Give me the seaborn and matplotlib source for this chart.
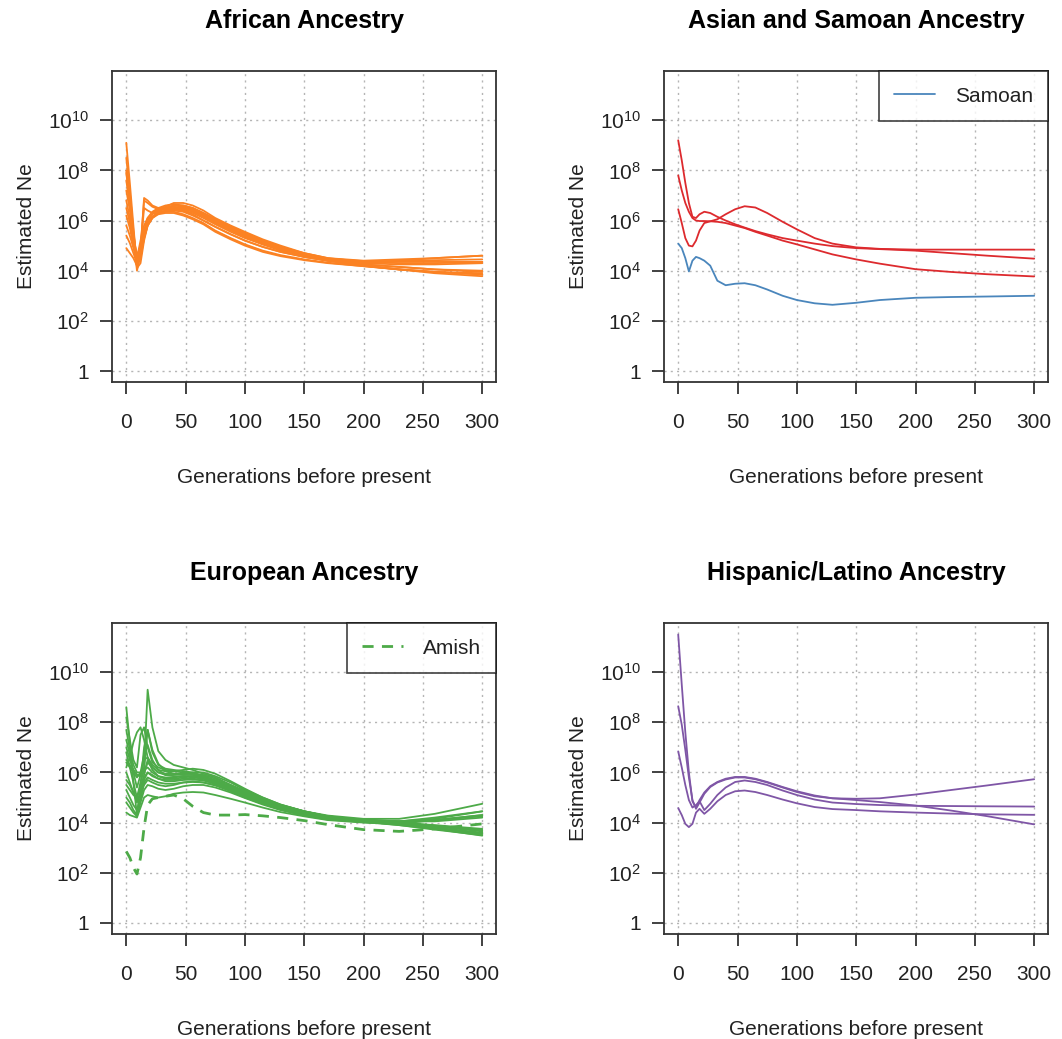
import matplotlib
matplotlib.use("Agg")
import matplotlib.pyplot as plt
from matplotlib.ticker import NullLocator
import numpy as np
import pandas as pd
import seaborn as sns

GENS = [0, 3, 6, 9, 12, 15, 18, 22, 27, 33, 40, 48, 56, 65, 75, 88,
        100, 115, 130, 150, 170, 200, 230, 260, 300]

# log10(Estimated Ne), one row per curve
AFRICAN = [
    [9.1, 7.5, 5.8, 4.1, 4.3, 5.2, 5.8, 6.15, 6.35, 6.5, 6.6, 6.6, 6.5, 6.3, 6.05, 5.75, 5.5, 5.2, 4.95, 4.7, 4.5, 4.35, 4.3, 4.3, 4.35],
    [8.5, 7.1, 5.6, 4.3, 4.8, 6.9, 6.8, 6.6, 6.5, 6.5, 6.55, 6.5, 6.4, 6.2, 5.95, 5.65, 5.4, 5.1, 4.85, 4.6, 4.4, 4.25, 4.15, 4.05, 3.95],
    [8.0, 6.8, 5.4, 4.0, 4.6, 5.5, 6.0, 6.3, 6.45, 6.55, 6.7, 6.7, 6.6, 6.4, 6.1, 5.8, 5.55, 5.25, 5.0, 4.7, 4.5, 4.4, 4.45, 4.5, 4.6],
    [7.6, 6.6, 5.5, 4.4, 4.9, 6.8, 6.7, 6.55, 6.45, 6.45, 6.5, 6.45, 6.35, 6.15, 5.9, 5.6, 5.35, 5.05, 4.8, 4.55, 4.4, 4.2, 4.05, 3.95, 3.85],
    [7.2, 6.4, 5.4, 4.6, 5.0, 5.6, 6.0, 6.25, 6.4, 6.5, 6.6, 6.55, 6.45, 6.25, 6.0, 5.7, 5.45, 5.15, 4.9, 4.65, 4.45, 4.35, 4.35, 4.35, 4.35],
    [6.8, 6.1, 5.3, 4.5, 5.2, 5.8, 6.1, 6.3, 6.4, 6.45, 6.5, 6.5, 6.4, 6.2, 5.95, 5.65, 5.4, 5.1, 4.85, 4.6, 4.42, 4.3, 4.25, 4.25, 4.3],
    [6.5, 5.9, 5.1, 4.2, 4.5, 5.3, 5.8, 6.1, 6.3, 6.4, 6.45, 6.4, 6.25, 6.0, 5.75, 5.45, 5.2, 4.95, 4.75, 4.55, 4.4, 4.2, 4.05, 3.95, 3.9],
    [6.2, 5.7, 5.0, 4.3, 4.9, 6.5, 6.4, 6.3, 6.3, 6.35, 6.4, 6.35, 6.2, 6.0, 5.75, 5.45, 5.2, 4.95, 4.75, 4.55, 4.4, 4.25, 4.15, 4.05, 4.0],
    [5.8, 5.4, 4.9, 4.5, 4.9, 5.5, 5.9, 6.15, 6.3, 6.4, 6.45, 6.4, 6.3, 6.1, 5.85, 5.55, 5.3, 5.05, 4.85, 4.62, 4.45, 4.35, 4.4, 4.5, 4.6],
    [5.4, 5.1, 4.7, 4.3, 4.7, 5.4, 5.85, 6.15, 6.3, 6.35, 6.35, 6.25, 6.1, 5.9, 5.6, 5.3, 5.05, 4.8, 4.62, 4.45, 4.32, 4.18, 4.05, 3.95, 3.85],
    [4.9, 4.7, 4.5, 4.2, 4.6, 5.3, 5.8, 6.1, 6.25, 6.3, 6.3, 6.2, 6.05, 5.85, 5.55, 5.25, 5.0, 4.75, 4.58, 4.42, 4.3, 4.18, 4.05, 3.9, 3.78],
    [7.9, 6.7, 5.3, 4.2, 4.7, 5.6, 6.1, 6.35, 6.5, 6.6, 6.65, 6.6, 6.5, 6.3, 6.05, 5.75, 5.5, 5.2, 4.95, 4.68, 4.48, 4.38, 4.38, 4.42, 4.45],
]

ASIAN = [
    [9.2, 8.4, 7.5, 6.7, 6.15, 6.1, 6.25, 6.35, 6.3, 6.15, 6.0, 5.85, 5.72, 5.58, 5.45, 5.3, 5.2, 5.08, 4.98, 4.9, 4.86, 4.8, 4.7, 4.6, 4.48],
    [7.8, 7.2, 6.7, 6.35, 6.1, 6.0, 5.98, 5.98, 5.97, 5.95, 5.9, 5.8, 5.7, 5.55, 5.4, 5.2, 5.05, 4.85, 4.65, 4.45, 4.28, 4.06, 3.95, 3.86, 3.77],
    [6.45, 5.9, 5.3, 5.0, 4.97, 5.2, 5.6, 5.9, 5.97, 6.05, 6.25, 6.45, 6.57, 6.52, 6.3, 5.95, 5.65, 5.3, 5.08, 4.93, 4.87, 4.84, 4.84, 4.84, 4.84],
]

SAMOAN = [5.08, 4.9, 4.5, 3.97, 4.4, 4.55, 4.5, 4.4, 4.2, 3.6, 3.42, 3.48, 3.5, 3.42, 3.25, 3.0,
          2.83, 2.7, 2.64, 2.72, 2.83, 2.92, 2.95, 2.97, 3.0]

EUROPEAN = [
    [6.5, 6.3, 6.1, 5.9, 5.9, 6.2, 9.3, 7.8, 6.85, 6.5, 6.3, 6.2, 6.1, 5.95, 5.8, 5.5, 5.25, 4.95, 4.7, 4.45, 4.25, 4.1, 4.05, 4.1, 4.3],
    [8.6, 7.2, 5.6, 4.3, 5.5, 7.0, 7.7, 6.8, 6.3, 6.15, 6.1, 6.05, 6.0, 5.85, 5.65, 5.4, 5.15, 4.85, 4.6, 4.35, 4.2, 4.08, 3.95, 3.8, 3.6],
    [8.2, 7.3, 6.5, 6.2, 7.5, 7.8, 7.0, 6.4, 6.2, 6.1, 6.05, 6.0, 5.95, 5.85, 5.65, 5.4, 5.15, 4.85, 4.6, 4.35, 4.2, 4.1, 4.0, 3.85, 3.7],
    [7.7, 6.9, 6.3, 6.0, 6.0, 6.1, 7.7, 6.9, 6.35, 6.05, 5.95, 5.9, 5.9, 5.85, 5.7, 5.45, 5.2, 4.9, 4.65, 4.4, 4.25, 4.12, 4.05, 4.05, 4.2],
    [7.0, 6.5, 6.1, 5.9, 5.85, 6.0, 6.4, 6.2, 6.0, 5.95, 5.95, 5.95, 5.95, 5.9, 5.75, 5.5, 5.25, 4.95, 4.7, 4.45, 4.25, 4.1, 4.05, 4.2, 4.45],
    [6.8, 6.2, 5.6, 5.0, 5.6, 6.1, 6.2, 6.0, 5.85, 5.8, 5.8, 5.85, 5.85, 5.8, 5.65, 5.4, 5.15, 4.85, 4.6, 4.35, 4.2, 4.05, 3.9, 3.75, 3.55],
    [6.4, 6.2, 6.0, 5.8, 6.0, 6.7, 7.1, 6.5, 6.1, 5.9, 5.85, 5.85, 5.8, 5.75, 5.6, 5.35, 5.1, 4.82, 4.58, 4.35, 4.2, 4.08, 4.0, 3.9, 3.75],
    [6.0, 5.6, 5.2, 4.8, 5.2, 5.8, 6.0, 5.85, 5.75, 5.7, 5.7, 5.75, 5.75, 5.7, 5.55, 5.3, 5.08, 4.8, 4.55, 4.32, 4.15, 4.05, 4.0, 4.1, 4.25],
    [5.7, 5.5, 5.2, 4.9, 5.1, 5.5, 5.7, 5.6, 5.5, 5.45, 5.5, 5.6, 5.65, 5.6, 5.5, 5.3, 5.05, 4.78, 4.55, 4.32, 4.15, 4.02, 3.9, 3.72, 3.5],
    [5.3, 5.0, 4.7, 4.5, 5.0, 5.6, 5.8, 5.7, 5.6, 5.55, 5.55, 5.6, 5.62, 5.6, 5.48, 5.25, 5.0, 4.75, 4.52, 4.3, 4.15, 4.05, 4.0, 3.85, 3.65],
    [5.0, 4.8, 4.5, 4.3, 4.8, 5.3, 5.5, 5.45, 5.35, 5.3, 5.35, 5.45, 5.5, 5.5, 5.4, 5.2, 4.98, 4.72, 4.5, 4.28, 4.12, 4.02, 3.95, 3.75, 3.48],
    [4.4, 4.3, 4.25, 4.2, 4.6, 5.0, 5.1, 5.05, 5.0, 5.05, 5.15, 5.2, 5.22, 5.2, 5.1, 4.95, 4.8, 4.6, 4.42, 4.25, 4.1, 4.0, 3.95, 4.1, 4.3],
    [7.3, 6.7, 6.0, 5.4, 5.9, 6.5, 6.6, 6.2, 6.0, 5.9, 5.9, 5.95, 6.0, 6.0, 5.85, 5.6, 5.3, 5.0, 4.72, 4.45, 4.28, 4.15, 4.15, 4.35, 4.75],
    [6.2, 6.6, 7.2, 7.6, 7.8, 7.3, 6.6, 6.3, 6.1, 6.05, 6.05, 6.1, 6.15, 6.1, 5.95, 5.65, 5.35, 5.0, 4.72, 4.45, 4.25, 4.1, 4.0, 3.88, 3.7],
    [5.5, 5.3, 5.1, 5.0, 5.4, 5.9, 6.5, 6.1, 5.85, 5.75, 5.75, 5.8, 5.85, 5.8, 5.65, 5.4, 5.15, 4.85, 4.6, 4.35, 4.2, 4.08, 4.05, 4.15, 4.45],
    [4.8, 4.6, 4.4, 4.25, 4.9, 5.7, 6.0, 5.9, 5.75, 5.65, 5.65, 5.7, 5.72, 5.68, 5.55, 5.3, 5.05, 4.78, 4.55, 4.3, 4.15, 4.05, 3.98, 3.8, 3.55],
]

AMISH = [2.85, 2.6, 2.2, 1.95, 2.6, 3.8, 4.7, 4.95, 5.0, 5.05, 5.1, 4.95, 4.65, 4.4, 4.3, 4.3,
         4.32, 4.27, 4.2, 4.08, 3.92, 3.72, 3.65, 3.75, 3.95]

HISPANIC = [
    [11.5, 9.5, 7.6, 6.0, 4.85, 4.6, 4.9, 5.2, 5.45, 5.62, 5.75, 5.82, 5.82, 5.75, 5.62, 5.42, 5.25, 5.08, 4.97, 4.9, 4.82, 4.68, 4.48, 4.26, 3.93],
    [8.64, 7.9, 6.9, 5.8, 4.9, 4.55, 4.8, 5.15, 5.42, 5.6, 5.72, 5.8, 5.8, 5.73, 5.6, 5.4, 5.22, 5.05, 4.97, 4.95, 4.97, 5.12, 5.3, 5.48, 5.73],
    [6.84, 6.2, 5.5, 4.9, 4.6, 4.7, 4.85, 4.5, 4.75, 5.1, 5.4, 5.62, 5.68, 5.62, 5.5, 5.28, 5.1, 4.92, 4.8, 4.74, 4.7, 4.67, 4.66, 4.65, 4.64],
    [4.58, 4.3, 3.95, 3.82, 3.95, 4.4, 4.55, 4.35, 4.55, 4.85, 5.1, 5.25, 5.28, 5.22, 5.1, 4.92, 4.77, 4.62, 4.54, 4.5, 4.45, 4.4, 4.36, 4.33, 4.31],
]

# Set1-like colours
ORANGE = "#FB8223"
RED = "#DD2A2E"
BLUE = "#4A86BC"
GREEN = "#4DAA48"
PURPLE = "#7F56A6"

sns.set_theme(style="white")
plt.rcParams["font.family"] = ["Liberation Sans", "DejaVu Sans"]
plt.rcParams["mathtext.fontset"] = "custom"
plt.rcParams["mathtext.rm"] = "Liberation Sans"
plt.rcParams["mathtext.it"] = "Liberation Sans:italic"
plt.rcParams["mathtext.bf"] = "Liberation Sans:bold"

FS = 15
INK = "#222222"


def to_long(curves):
    rows = []
    for i, c in enumerate(curves):
        for g, v in zip(GENS, c):
            rows.append((i, g, 10.0 ** v))
    return pd.DataFrame(rows, columns=["curve", "gen", "ne"])


def style_axes(ax, title):
    ax.set_yscale("log")
    ax.set_xlim(-12, 312)
    ax.set_ylim(10 ** -0.44, 10 ** 11.96)
    ax.set_xticks(range(0, 301, 50))
    yt = [10.0 ** k for k in range(0, 11, 2)]
    ax.set_yticks(yt)
    ax.set_yticklabels(["1"] + [rf"$\mathregular{{10^{{{k}}}}}$" for k in range(2, 11, 2)])
    ax.yaxis.set_minor_locator(NullLocator())
    ax.set_axisbelow(True)
    ax.grid(True, which="major", linestyle=(0, (1.5, 3.0)), color="#b5b5b5", linewidth=1.0)
    for sp in ax.spines.values():
        sp.set_visible(True)
        sp.set_color("#333333")
        sp.set_linewidth(1.3)
    ax.tick_params(axis="both", which="major", direction="out", length=8.6, width=1.3,
                   color="#333333", labelsize=FS, labelcolor=INK, left=True, bottom=True)
    ax.tick_params(axis="x", pad=14)
    ax.tick_params(axis="y", pad=8)
    ax.set_title(title, fontsize=18, fontweight="bold", pad=31, color="black")
    ax.set_xlabel("Generations before present", fontsize=FS, color=INK)
    ax.set_ylabel("Estimated Ne", fontsize=FS, color=INK)
    ax.xaxis.set_label_coords(0.5, -0.276)
    ax.yaxis.set_label_coords(-0.197, 0.5)


def draw_bundle(ax, curves, color, lw=1.3):
    df = to_long(curves)
    sns.lineplot(data=df, x="gen", y="ne", units="curve", estimator=None,
                 color=color, linewidth=lw, ax=ax, legend=False)


fig = plt.figure(figsize=(10.62, 10.39), dpi=100)
W, H = 0.3620, 0.2993
ax_af = fig.add_axes([0.1055, 0.6323, W, H])
ax_as = fig.add_axes([0.6252, 0.6323, W, H])
ax_eu = fig.add_axes([0.1055, 0.1011, W, H])
ax_hi = fig.add_axes([0.6252, 0.1011, W, H])

for ax in (ax_af, ax_as, ax_eu, ax_hi):
    ax.set_yscale("log")

draw_bundle(ax_af, AFRICAN, ORANGE)
draw_bundle(ax_as, ASIAN, RED)
sns.lineplot(x=GENS, y=[10.0 ** v for v in SAMOAN], color=BLUE, linewidth=1.3,
             ax=ax_as, label="Samoan")
draw_bundle(ax_eu, EUROPEAN, GREEN)
sns.lineplot(x=GENS, y=[10.0 ** v for v in AMISH], color=GREEN, linewidth=2.0,
             linestyle=(0, (4, 3)), ax=ax_eu, label="Amish")
draw_bundle(ax_hi, HISPANIC, PURPLE)

style_axes(ax_af, "African Ancestry")
style_axes(ax_as, "Asian and Samoan Ancestry")
style_axes(ax_eu, "European Ancestry")
style_axes(ax_hi, "Hispanic/Latino Ancestry")

for ax in (ax_as, ax_eu):
    leg = ax.legend(loc="upper right", borderaxespad=0, frameon=True, fancybox=False,
                    fontsize=FS, handlelength=1.95, handletextpad=0.95, borderpad=0.75)
    leg.get_frame().set_edgecolor("#111111")
    leg.get_frame().set_linewidth(1.2)
    for t in leg.get_texts():
        t.set_color(INK)

fig.savefig("out.png", dpi=100, facecolor="white")
